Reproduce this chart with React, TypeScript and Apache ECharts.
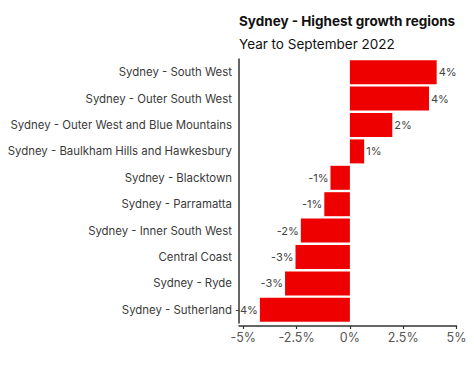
import React, { useEffect, useRef } from "react";
import * as echarts from "echarts";

const categories = [
  "Sydney - South West",
  "Sydney - Outer South West",
  "Sydney - Outer West and Blue Mountains",
  "Sydney - Baulkham Hills and Hawkesbury",
  "Sydney - Blacktown",
  "Sydney - Parramatta",
  "Sydney - Inner South West",
  "Central Coast",
  "Sydney - Ryde",
  "Sydney - Sutherland",
];
const growth = [4.07, 3.71, 1.99, 0.67, -0.91, -1.2, -2.3, -2.55, -3.04, -4.22];
const xTicks = [-5, -2.5, 0, 2.5, 5];

const FONT = "Inter, 'Noto Sans', sans-serif";

export default function App() {
  const ref = useRef<HTMLDivElement>(null);
  useEffect(() => {
    if (!ref.current) return;
    const chart = echarts.init(ref.current, undefined, { renderer: "svg" });
    chart.setOption({
      animation: false,
      backgroundColor: "#ffffff",
      textStyle: { fontFamily: FONT },
      title: [
        {
          text: "Sydney - Highest growth regions",
          left: 239,
          top: 14,
          padding: 0,
          textStyle: { fontFamily: FONT, fontSize: 13.5, fontWeight: "bold", color: "#111" },
        },
        {
          text: "Year to September 2022",
          left: 239,
          top: 37,
          padding: 0,
          textStyle: { fontFamily: FONT, fontSize: 13.5, fontWeight: "normal", color: "#111" },
        },
      ],
      grid: { left: 239, right: 474 - 456.5, top: 59, bottom: 42, containLabel: false },
      xAxis: {
        type: "value",
        min: -5.2,
        max: 5,
        offset: 3,
        splitLine: { show: false },
        axisLine: { show: true, lineStyle: { color: "#333", width: 1.5 } },
        axisTick: { show: true, length: 3, customValues: xTicks, lineStyle: { color: "#333", width: 1.2 } },
        axisLabel: {
          customValues: xTicks,
          formatter: (v: number) => `${v}%`,
          fontSize: 12.5,
          color: "#555",
          margin: 5,
          fontFamily: FONT,
        },
      },
      yAxis: {
        type: "category",
        data: categories,
        inverse: true,
        axisLine: { show: true, onZero: false, lineStyle: { color: "#333", width: 1.5 } },
        axisTick: { show: false },
        axisLabel: { fontSize: 11.4, color: "#3a3a3a", margin: 7, fontFamily: FONT },
      },
      series: [
        {
          type: "bar",
          data: growth.map((v) => ({
            value: v,
            label: { position: v < 0 ? "left" : "right" },
          })),
          barWidth: 24,
          itemStyle: { color: "#ee0000" },
          label: {
            show: true,
            distance: 2,
            fontSize: 11,
            color: "#444",
            fontFamily: FONT,
            formatter: (p: any) => `${Math.round(p.value)}%`,
          },
        },
      ],
    });
    return () => chart.dispose();
  }, []);
  return (
    <div
      ref={ref}
      style={{ position: "fixed", left: 0, top: 0, width: 474, height: 365 }}
    />
  );
}
